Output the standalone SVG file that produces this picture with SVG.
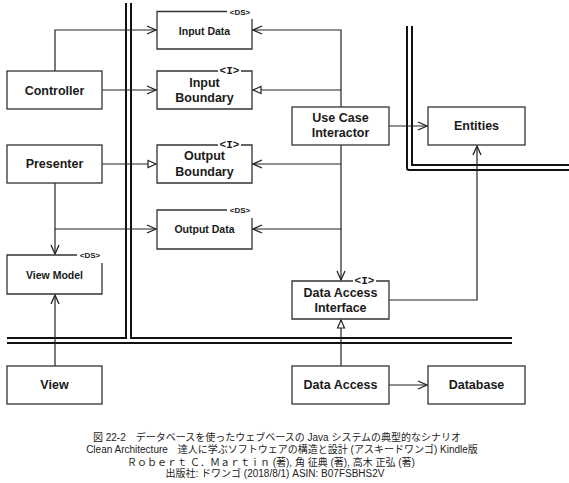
<svg xmlns="http://www.w3.org/2000/svg" width="569" height="483" viewBox="0 0 569 483">
<defs>
<marker id="open" markerUnits="userSpaceOnUse" markerWidth="12" markerHeight="10" refX="10" refY="5" orient="auto">
<path d="M1,1 L10,5 L1,9" fill="none" stroke="#222" stroke-width="1.3"/>
</marker>
<marker id="tri" markerUnits="userSpaceOnUse" markerWidth="12" markerHeight="10" refX="10" refY="5" orient="auto">
<path d="M2,1.5 L10,5 L2,8.5 Z" fill="#fff" stroke="#222" stroke-width="1.2"/>
</marker>
</defs>
<style>
.box{fill:#fff;stroke:#333;stroke-width:1.3}
.bl{fill:none;stroke:#333;stroke-width:1.3}
.t{font-family:"Liberation Sans",Arial,sans-serif;font-weight:bold;font-size:12.5px;fill:#1a1a1a;text-anchor:middle}
.ts{font-family:"Liberation Sans",Arial,sans-serif;font-weight:bold;font-size:10.5px;fill:#1a1a1a;text-anchor:middle}
.ds{font-family:"Liberation Sans",Arial,sans-serif;font-weight:bold;font-size:8px;fill:#1a1a1a;text-anchor:middle}
.st{font-family:"Liberation Mono","Courier New",monospace;font-weight:bold;font-size:11px;fill:#1a1a1a;text-anchor:middle}
.c{fill:none;stroke:#222;stroke-width:1.2}
.wall{fill:none;stroke:#111;stroke-width:2}
.cap{font-family:"Liberation Sans",Arial,"Noto Sans CJK JP",sans-serif;font-size:10px;fill:#222;text-anchor:middle}
</style>
<rect width="569" height="483" fill="#fff"/>

<g id="boundaries">
<path class="wall" d="M126,3 V338 H7"/>
<path class="wall" d="M131,3 V338 H512"/>
<path class="wall" d="M7,343 H512"/>
<path class="wall" d="M412,26 V165 H569"/>
<path class="wall" d="M407,26 V168 Q407,170 409,170 H569"/>
</g>

<g id="connectors">
<path class="c" d="M55,71 V30 H156" marker-end="url(#open)"/>
<path class="c" d="M102,90 H156" marker-end="url(#open)"/>
<path class="c" d="M102,164 H156" marker-end="url(#tri)"/>
<path class="c" d="M55,183 V254" marker-end="url(#open)"/>
<path class="c" d="M55,229 H156" marker-end="url(#open)"/>
<path class="c" d="M55,366 V295" marker-end="url(#open)"/>
<path class="c" d="M341,107 V30 H253" marker-end="url(#open)"/>
<path class="c" d="M341,90 H253" marker-end="url(#tri)"/>
<path class="c" d="M341,164 H253" marker-end="url(#open)"/>
<path class="c" d="M341,145 V229 H253" marker-end="url(#open)"/>
<path class="c" d="M341,229 V280" marker-end="url(#open)"/>
<path class="c" d="M389,126 H427" marker-end="url(#open)"/>
<path class="c" d="M389,300 H477 V146" marker-end="url(#open)"/>
<path class="c" d="M341,366 V320" marker-end="url(#tri)"/>
<path class="c" d="M389,385 H427" marker-end="url(#open)"/>
</g>

<g id="controller">
<rect class="box" x="7" y="71" width="95" height="38"/>
<text class="t" x="54.5" y="94.5">Controller</text>
</g>
<g id="presenter">
<rect class="box" x="7" y="145" width="95" height="38"/>
<text class="t" x="54.5" y="168">Presenter</text>
</g>
<g id="view-model">
<path class="bl" d="M77,255 H7 V294 H102 V263"/>
<text class="ds" x="90" y="258">&lt;DS&gt;</text>
<text class="ts" x="54.5" y="278.5">View Model</text>
</g>
<g id="view">
<rect class="box" x="7" y="366" width="95" height="38"/>
<text class="t" x="54.5" y="389">View</text>
</g>
<g id="input-data">
<path class="bl" d="M227,11.5 H157 V49 H252 V19"/>
<text class="ds" x="240" y="14.5">&lt;DS&gt;</text>
<text class="ts" x="204.5" y="34.5">Input Data</text>
</g>
<g id="input-boundary">
<path class="bl" d="M218,71 H157 V109 H252 V71 H241"/>
<text class="st" x="229.5" y="74">&lt;I&gt;</text>
<text class="t" x="204.5" y="86.5">Input</text>
<text class="t" x="204.5" y="101.5">Boundary</text>
</g>
<g id="output-boundary">
<path class="bl" d="M218,145 H157 V183 H252 V145 H241"/>
<text class="st" x="229.5" y="148">&lt;I&gt;</text>
<text class="t" x="204.5" y="160">Output</text>
<text class="t" x="204.5" y="176">Boundary</text>
</g>
<g id="output-data">
<path class="bl" d="M227,210 H157 V249 H252 V218"/>
<text class="ds" x="240" y="213">&lt;DS&gt;</text>
<text class="ts" x="204.5" y="233">Output Data</text>
</g>
<g id="use-case-interactor">
<rect class="box" x="292" y="107" width="97" height="38"/>
<text class="t" x="340.5" y="122">Use Case</text>
<text class="t" x="340.5" y="137">Interactor</text>
</g>
<g id="entities">
<rect class="box" x="428" y="107" width="97" height="38"/>
<text class="t" x="476.5" y="129.5">Entities</text>
</g>
<g id="data-access-interface">
<path class="bl" d="M353,281 H292 V319 H389 V281 H376"/>
<text class="st" x="364.5" y="284">&lt;I&gt;</text>
<text class="t" x="340.5" y="296.5">Data Access</text>
<text class="t" x="340.5" y="311.5">Interface</text>
</g>
<g id="data-access">
<rect class="box" x="292" y="366" width="97" height="38"/>
<text class="t" x="340.5" y="389">Data Access</text>
</g>
<g id="database">
<rect class="box" x="428" y="366" width="97" height="38"/>
<text class="t" x="476.5" y="389">Database</text>
</g>

<g id="caption">
<text class="cap" x="277" y="441">図 22-2　データベースを使ったウェブベースの Java システムの典型的なシナリオ</text>
<text class="cap" x="282" y="453">Clean Architecture　達人に学ぶソフトウェアの構造と設計 (アスキードワンゴ) Kindle版</text>
<text class="cap" x="271" y="465.5">Ｒｏｂｅｒｔ Ｃ．Ｍａｒｔｉｎ (著), 角 征典  (著), 高木 正弘 (著)</text>
<text class="cap" x="275" y="477">出版社: ドワンゴ (2018/8/1) ASIN: B07FSBHS2V</text>
</g>
</svg>
